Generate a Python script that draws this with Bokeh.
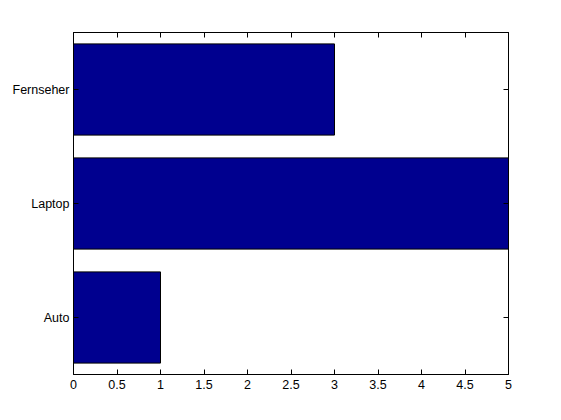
from bokeh.plotting import figure
from bokeh.models import FactorRange, Range1d, LinearAxis, CategoricalAxis, FixedTicker
from bokeh.embed import file_html
from bokeh.resources import INLINE

categories = ["Auto", "Laptop", "Fernseher"]
values = [1, 5, 3]
x_ticks = [0, 0.5, 1, 1.5, 2, 2.5, 3, 3.5, 4, 4.5, 5]
x_tick_labels = ["0", "0.5", "1", "1.5", "2", "2.5", "3", "3.5", "4", "4.5", "5"]

FONT = "Liberation Sans"
FS = "12.5px"

p = figure(width=553, height=412, y_range=FactorRange(*categories, range_padding=0),
           x_range=Range1d(0, 5), output_backend="svg", toolbar_location=None,
           min_border_left=73, min_border_right=45, min_border_top=32, min_border_bottom=38)

p.hbar(y=categories, right=values, left=0, height=0.8,
       fill_color="#00008F", line_color="black", line_width=1)

p.grid.visible = False
p.outline_line_color = "black"
p.outline_line_width = 1
p.background_fill_color = "white"
p.border_fill_color = "white"

def style(ax):
    ax.axis_line_color = "black"
    ax.major_tick_line_color = "black"
    ax.major_tick_in = 5
    ax.major_tick_out = 0
    ax.minor_tick_line_color = None
    ax.major_label_text_font = FONT
    ax.major_label_text_font_size = FS
    ax.major_label_text_color = "black"

xa = p.xaxis[0]
style(xa)
xa.ticker = FixedTicker(ticks=x_ticks)
xa.major_label_overrides = {t: l for t, l in zip(x_ticks, x_tick_labels)}
xa.major_label_standoff = 5

ya = p.yaxis[0]
style(ya)
ya.major_label_standoff = 4

top = LinearAxis(ticker=FixedTicker(ticks=x_ticks))
style(top)
top.major_label_text_font_size = "0px"
top.major_label_text_color = None
p.add_layout(top, "above")

right = CategoricalAxis()
style(right)
right.major_label_text_font_size = "0px"
right.major_label_text_color = None
p.add_layout(right, "right")

open("out.html", "w").write(file_html(p, INLINE))
